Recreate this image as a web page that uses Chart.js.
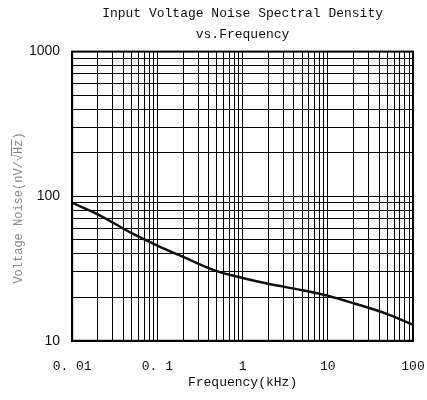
<!DOCTYPE html>
<html>
<head>
<meta charset="utf-8">
<script src="https://cdn.jsdelivr.net/npm/chart.js@4"></script>
<style>
  html, body { margin: 0; padding: 0; background: #fff; }
  #wrap { width: 427px; height: 400px; }
</style>
</head>
<body>
<div id="wrap"><canvas id="noiseChart"></canvas></div>
<script>
// ── Data ──────────────────────────────────────────────────────
const FREQ_KHZ = [0.01, 0.02, 0.05, 0.1, 0.2, 0.5, 1, 2, 5, 10, 20, 50, 100];
const NOISE_NV = [90, 75, 55.5, 45.6, 38.1, 30.3, 27.2, 24.8, 22.4, 20.5, 18.2, 15.3, 12.9];

const X_DECADES     = [0.01, 0.1, 1, 10, 100];
const X_TICK_LABELS = ['0. 01', '0. 1', '1', '10', '100'];
const Y_DECADES     = [10, 100, 1000];
const Y_TICK_LABELS = ['10', '100', '1000'];

// ── Helpers ───────────────────────────────────────────────────
const MONO = "'Liberation Mono', 'DejaVu Sans Mono', monospace";
const SANS = "'Liberation Sans', Arial, sans-serif";

// 1..9 x each decade, for the log grid
function decadeGrid(decades) {
    const out = [];
    for (let i = 0; i < decades.length - 1; i++) {
        for (let k = 1; k < 10; k++) out.push(+(decades[i] * k).toPrecision(6));
    }
    out.push(decades[decades.length - 1]);
    return out;
}

function decadeLabel(decades, labels) {
    return function (value) {
        const i = decades.findIndex(d => Math.abs(Math.log10(d) - Math.log10(value)) < 1e-6);
        return i >= 0 ? labels[i] : '';
    };
}

// frame round the plot + rotated y title with the sqrt bar over Hz
const framePlugin = {
    id: 'frame',
    afterDraw(chart) {
        const { ctx, chartArea: a } = chart;
        ctx.save();
        ctx.strokeStyle = '#000';
        ctx.lineWidth = 2;
        ctx.strokeRect(a.left, a.top, a.right - a.left, a.bottom - a.top);

        // y-axis title
        const pre = 'Voltage Noise(nV/\u221A';
        const hz  = 'Hz';
        const post = ')';
        ctx.font = "12px " + MONO;
        ctx.fillStyle = '#8a8a8a';
        ctx.strokeStyle = '#8a8a8a';
        ctx.lineWidth = 1;
        ctx.translate(19, 208);
        ctx.rotate(-Math.PI / 2);
        const w1 = ctx.measureText(pre).width;
        const w2 = ctx.measureText(hz).width;
        const w3 = ctx.measureText(post).width;
        let x = -(w1 + w2 + w3) / 2;
        ctx.textBaseline = 'middle';
        ctx.textAlign = 'left';
        ctx.fillText(pre, x, 0);
        ctx.fillText(hz, x + w1, 0);
        ctx.fillText(post, x + w1 + w2, 0);
        ctx.beginPath();
        ctx.moveTo(x + w1 - 2, -7.5);
        ctx.lineTo(x + w1 + w2, -7.5);
        ctx.stroke();
        ctx.restore();
    }
};

// ── Chart ─────────────────────────────────────────────────────
new Chart(document.getElementById('noiseChart'), {
    type: 'line',
    data: {
        datasets: [{
            label: 'Voltage Noise',
            data: FREQ_KHZ.map((f, i) => ({ x: f, y: NOISE_NV[i] })),
            borderColor: '#111',
            borderWidth: 2.5,
            pointRadius: 0,
            cubicInterpolationMode: 'monotone',
            fill: false
        }]
    },
    options: {
        responsive: true,
        maintainAspectRatio: false,
        animation: false,
        layout: { padding: { left: 17, right: 14, top: 0, bottom: 10 } },
        plugins: {
            legend: { display: false },
            tooltip: { enabled: false },
            title: {
                display: true,
                fullSize: false,
                text: ['Input Voltage Noise Spectral Density', 'vs.Frequency'],
                color: '#111',
                font: { family: MONO, size: 13, weight: 'normal', lineHeight: 1.6 },
                padding: { top: 3, bottom: 7 }
            }
        },
        scales: {
            x: {
                type: 'logarithmic',
                min: 0.01,
                max: 100,
                afterBuildTicks: s => { s.ticks = decadeGrid(X_DECADES).map(v => ({ value: v })); },
                // invisible tick marks push the labels down without widening the side padding
                grid: { color: '#000', lineWidth: 1, drawTicks: true, tickLength: 18, tickColor: 'rgba(0,0,0,0)' },
                border: { color: '#000', width: 2 },
                ticks: {
                    autoSkip: false,
                    maxRotation: 0,
                    padding: 0,
                    color: '#111',
                    font: { family: MONO, size: 13 },
                    callback: decadeLabel(X_DECADES, X_TICK_LABELS)
                },
                title: {
                    display: true,
                    text: 'Frequency(kHz)',
                    color: '#111',
                    font: { family: MONO, size: 13 },
                    padding: { top: 0, bottom: 0 }
                }
            },
            y: {
                type: 'logarithmic',
                min: 10,
                max: 1000,
                afterBuildTicks: s => { s.ticks = decadeGrid(Y_DECADES).map(v => ({ value: v })); },
                grid: { color: '#000', lineWidth: 1, drawTicks: false },
                border: { color: '#000', width: 2 },
                ticks: {
                    autoSkip: false,
                    padding: 12,
                    color: '#111',
                    font: { family: SANS, size: 14 },
                    callback: decadeLabel(Y_DECADES, Y_TICK_LABELS)
                }
            }
        }
    },
    plugins: [framePlugin]
});
</script>
</body>
</html>
